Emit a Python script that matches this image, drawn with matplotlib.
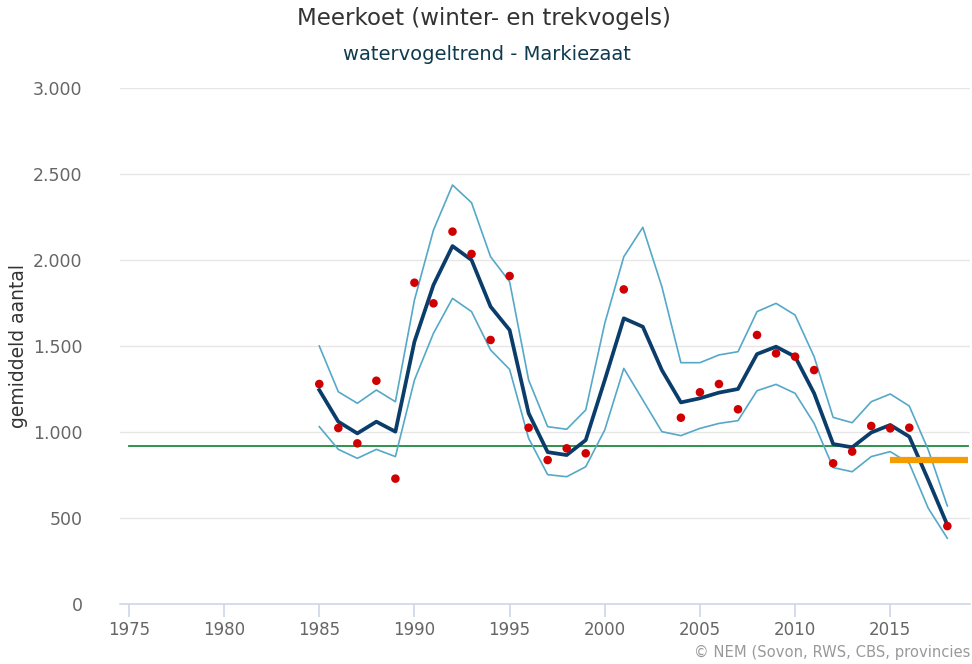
import matplotlib
matplotlib.use('Agg')
import matplotlib.pyplot as plt
import numpy as np
from matplotlib.ticker import FuncFormatter

# yearly index values, Markiezaat coot counts
years = list(range(1985, 2019))
trend = [1244, 1060, 992, 1060, 1002, 1525, 1855, 2081, 2000, 1729, 1593, 1109,
         883, 866, 953, 1302, 1661, 1612, 1360, 1172, 1196, 1229, 1250, 1453,
         1496, 1438, 1225, 930, 911, 997, 1041, 973, 721, 459]
upper = [1500, 1234, 1167, 1244, 1176, 1767, 2174, 2436, 2333, 2019, 1874, 1302,
         1031, 1016, 1128, 1632, 2019, 2190, 1845, 1403, 1403, 1448, 1467, 1700,
         1748, 1680, 1438, 1085, 1054, 1176, 1221, 1151, 895, 570]
lower = [1031, 899, 847, 899, 857, 1302, 1574, 1777, 1700, 1477, 1364, 963,
         752, 740, 798, 1012, 1370, 1186, 1002, 979, 1021, 1050, 1066, 1240,
         1277, 1225, 1050, 793, 769, 857, 886, 818, 556, 382]
counted = [1279, 1023, 934, 1298, 729, 1868, 1748, 2165, 2035, 1535, 1907, 1025,
           837, 905, 876, None, 1829, None, None, 1083, 1231, 1279, 1132, 1564,
           1457, 1438, 1360, 818, 886, 1035, 1021, 1025, None, 453]

# reference levels
ref_years = [1975, 2019.1]
ref_level = 920
recent_years = [2015, 2019.1]
recent_level = 835

yticks = [0, 500, 1000, 1500, 2000, 2500, 3000]
xticks = list(range(1975, 2020, 5))

W, H = 972, 664
fig = plt.figure(figsize=(W / 100, H / 100), dpi=100)
ax = fig.add_axes([120 / W, 1 - 604 / H, 850 / W, 516 / H])

for y in yticks[1:]:
    ax.axhline(y, color='#e6e6e6', lw=1.0, zorder=0)

ax.plot(ref_years, [ref_level] * 2, color='#1e8a3e', lw=1.3, zorder=2)
ax.plot(years, upper, color='#55a8c8', lw=1.2, zorder=3)
ax.plot(years, lower, color='#55a8c8', lw=1.2, zorder=3)
ax.plot(years, trend, color='#0b3d6b', lw=2.7, zorder=4, solid_joinstyle='round')
ax.plot(recent_years, [recent_level] * 2, color='#f59c00', lw=4.5, zorder=5,
        solid_capstyle='butt')

cx = [x for x, v in zip(years, counted) if v is not None]
cy = [v for v in counted if v is not None]
ax.scatter(cx, cy, s=38, color='#d00000', edgecolor='none', zorder=6)

ax.set_xlim(1974.53, 2019.19)
ax.set_ylim(0, 3000)
ax.set_xticks(xticks)
ax.set_yticks(yticks)
ax.yaxis.set_major_formatter(FuncFormatter(lambda v, p: '{:,.0f}'.format(v).replace(',', '.')))

for s in ['top', 'right', 'left']:
    ax.spines[s].set_visible(False)
ax.spines['bottom'].set_color('#ccd6eb')
ax.spines['bottom'].set_linewidth(1.2)
ax.tick_params(axis='x', length=9, width=1.2, color='#ccd6eb', labelcolor='#666666',
               labelsize=12, pad=3)
ax.tick_params(axis='y', length=0, labelcolor='#666666', labelsize=12.5, pad=27)

ax.set_ylabel('gemiddeld aantal', fontsize=13.5, color='#333333')
ax.yaxis.set_label_coords(-(120 - 28) / 850, 0.5)

fig.text(0.498, 1 - 18 / H, 'Meerkoet (winter- en trekvogels)', ha='center', va='center',
         fontsize=16.5, color='#333333')
fig.text(0.501, 1 - 54 / H, 'watervogeltrend - Markiezaat', ha='center', va='center',
         fontsize=14, color='#0d3b4f')
fig.text(970 / W, 1 - 652 / H, '\u00a9 NEM (Sovon, RWS, CBS, provincies', ha='right',
         va='center', fontsize=10.6, color='#999999')

fig.savefig('out.png', dpi=100)
